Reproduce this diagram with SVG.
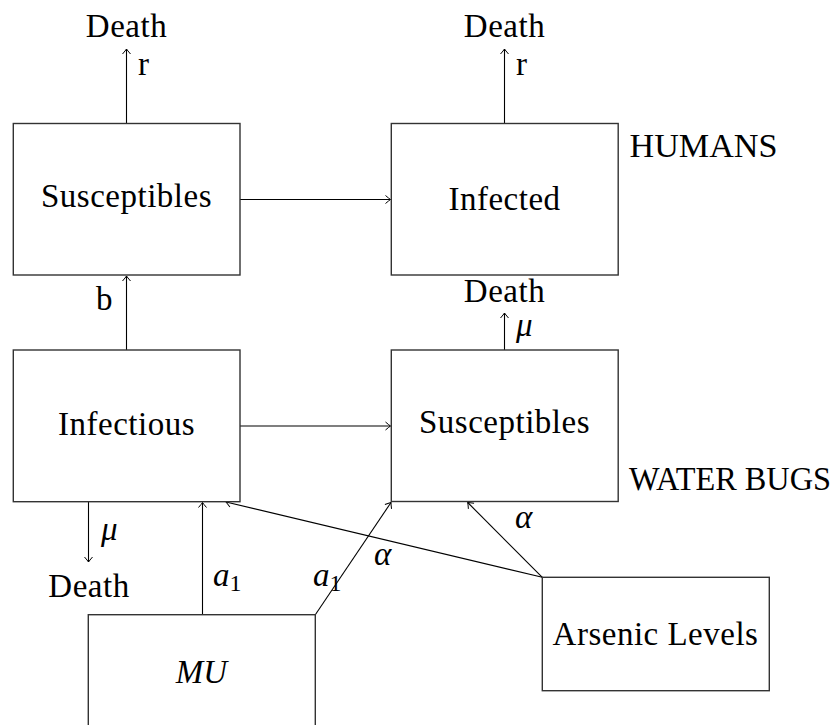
<svg xmlns="http://www.w3.org/2000/svg" width="838" height="725" viewBox="0 0 838 725">
<defs>
<style>
text{font-family:"Liberation Serif","Times New Roman",serif;font-size:33px;fill:#000;letter-spacing:0.5px}
.box{fill:#fff;stroke:#333;stroke-width:1.4}
.c{fill:none;stroke:#000;stroke-width:1.1}
.it{font-style:italic;letter-spacing:0}
.sub{font-style:normal;font-size:24px}
.mid{text-anchor:middle}
.side{letter-spacing:0}
</style>
<marker id="ah" markerUnits="userSpaceOnUse" markerWidth="12" markerHeight="12" viewBox="-8 -6 10 12" refX="0" refY="0" orient="auto">
<path d="M-5,-4 Q-1.5,-1 0,0 Q-1.5,1 -5,4" fill="none" stroke="#000" stroke-width="1"/>
</marker>
</defs>
<rect width="838" height="725" fill="#fff"/>
<g id="connectors">
<line class="c" x1="126.5" y1="123.5" x2="126.5" y2="49" marker-end="url(#ah)"/>
<line class="c" x1="504.5" y1="123.5" x2="504.5" y2="49" marker-end="url(#ah)"/>
<line class="c" x1="240" y1="199.5" x2="390.5" y2="199.5" marker-end="url(#ah)"/>
<line class="c" x1="126.5" y1="350" x2="126.5" y2="276" marker-end="url(#ah)"/>
<line class="c" x1="504.5" y1="350" x2="504.5" y2="313" marker-end="url(#ah)"/>
<line class="c" x1="240" y1="426" x2="390.5" y2="426" marker-end="url(#ah)"/>
<line class="c" x1="88.5" y1="502" x2="88.5" y2="562" marker-end="url(#ah)"/>
<line class="c" x1="202.5" y1="614.7" x2="202.5" y2="502.5" marker-end="url(#ah)"/>
<line class="c" x1="315.3" y1="614.7" x2="391" y2="502.5" marker-end="url(#ah)"/>
<line class="c" x1="542.3" y1="577.3" x2="226" y2="502" marker-end="url(#ah)"/>
<line class="c" x1="542.3" y1="577.3" x2="467.7" y2="502.5" marker-end="url(#ah)"/>
</g>
<g id="labels">
<text class="mid" x="126.5" y="36.5">Death</text>
<text x="138" y="75">r</text>
<text class="mid" x="504.5" y="36.5">Death</text>
<text x="516" y="75">r</text>
<text x="96" y="310">b</text>
<text class="mid" x="504.5" y="301.5">Death</text>
<text class="it" x="516" y="336">μ</text>
<text class="it" x="101" y="540">μ</text>
<text class="mid" x="89" y="596.5">Death</text>
<text class="it" x="213" y="586">a<tspan class="sub" dy="5">1</tspan></text>
<text class="it" x="313" y="586">a<tspan class="sub" dy="5">1</tspan></text>
<text class="it" x="374" y="565">α</text>
<text class="it" x="515" y="528">α</text>
<text class="side" x="629.5" y="157" textLength="148" lengthAdjust="spacingAndGlyphs">HUMANS</text>
<text class="side" x="629" y="489.5" textLength="202" lengthAdjust="spacingAndGlyphs">WATER BUGS</text>
</g>
<g id="humans-susceptibles">
<rect class="box" x="13.3" y="123.5" width="226.7" height="151.5"/>
<text class="mid" x="126.5" y="207">Susceptibles</text>
</g>
<g id="humans-infected">
<rect class="box" x="391.3" y="123.5" width="226.9" height="151.5"/>
<text class="mid" x="504.5" y="210">Infected</text>
</g>
<g id="bugs-infectious">
<rect class="box" x="13.3" y="350" width="226.7" height="151.7"/>
<text class="mid" x="126.5" y="435">Infectious</text>
</g>
<g id="bugs-susceptibles">
<rect class="box" x="391.3" y="350" width="226.9" height="151.5"/>
<text class="mid" x="504.5" y="433">Susceptibles</text>
</g>
<g id="mu">
<rect class="box" x="88.3" y="614.7" width="227" height="152"/>
<text class="mid it" x="201.5" y="682.5">MU</text>
</g>
<g id="arsenic">
<rect class="box" x="542.3" y="577.3" width="227" height="113.4"/>
<text class="mid" x="655.5" y="645">Arsenic Levels</text>
</g>
</svg>
